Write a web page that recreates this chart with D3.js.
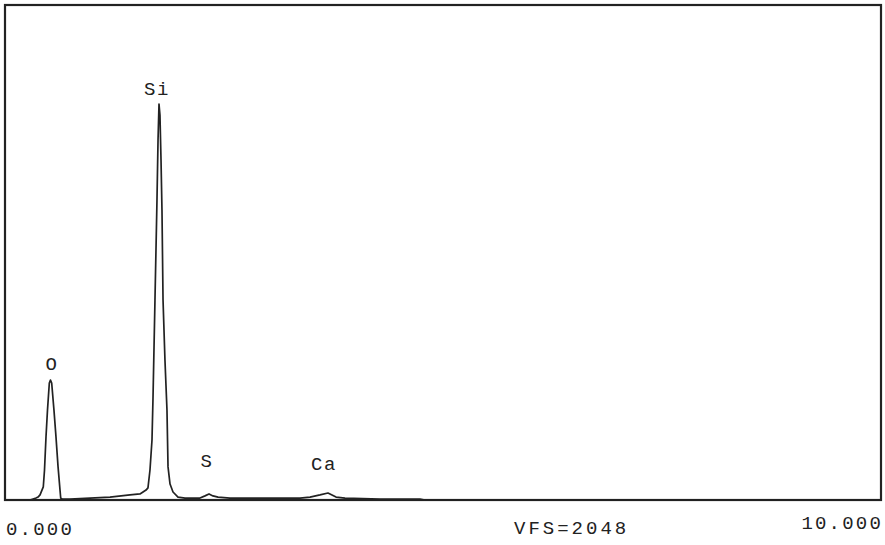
<!DOCTYPE html>
<html lang="en">
<head>
    <meta charset="UTF-8" />
    <title>EDS spectrum</title>
    <script src="https://d3js.org/d3.v7.min.js"></script>
    <style>
        body { margin: 0; background: #fff; }
        text { font-family: "Liberation Mono", "DejaVu Sans Mono", monospace; fill: #222; }
    </style>
</head>
<body>
    <script>
        // spectrum: energy (keV) and counts
        var energy = [
            0.000, 0.285, 0.320, 0.354, 0.377, 0.400, 0.422, 0.437, 0.451, 0.468,
            0.485, 0.506, 0.519, 0.533, 0.559, 0.582, 0.605, 0.628, 0.636, 0.651,
            0.742, 0.970, 1.199, 1.427, 1.541, 1.610, 1.632, 1.655, 1.678, 1.689,
            1.712, 1.735, 1.747, 1.758, 1.769, 1.781, 1.792, 1.804, 1.826, 1.849,
            1.861, 1.884, 1.918, 1.975, 2.055, 2.169, 2.226, 2.283, 2.329, 2.374,
            2.432, 2.568, 2.911, 3.139, 3.368, 3.482, 3.596, 3.687, 3.733, 3.779,
            3.881, 4.281, 4.737, 4.795, 10.000
        ];
        var counts = [
            0, 0, 4, 8, 12, 21, 41, 54, 124, 261,
            372, 484, 496, 484, 372, 261, 140, 41, 8, 4,
            4, 8, 12, 21, 25, 41, 50, 124, 248, 414,
            827, 1241, 1490, 1638, 1593, 1407, 1200, 827, 579, 372,
            137, 66, 33, 12, 8, 8, 8, 17, 25, 17,
            12, 8, 8, 8, 8, 12, 21, 29, 21, 12,
            8, 4, 4, 0, 0
        ];

        var elements = ["O", "Si", "S", "Ca"];
        var labelEnergy = [0.525, 1.724, 2.295, 3.630];
        var labelCounts = [538, 1675, 137, 124];

        var axisLabels = ["0.000", "10.000"];
        var vfsLabel = "VFS=2048";

        var w = 885;
        var h = 545;

        var xScale = d3.scaleLinear()
            .domain([0, 10])
            .range([5, 881]);

        var yScale = d3.scaleLinear()
            .domain([0, 2048])
            .range([500, 5]);

        var svg = d3.select("body")
            .append("svg")
            .attr("width", w)
            .attr("height", h);

        // frame
        svg.append("rect")
            .attr("x", xScale(0))
            .attr("y", yScale(2048))
            .attr("width", xScale(10) - xScale(0))
            .attr("height", yScale(0) - yScale(2048))
            .attr("fill", "none")
            .attr("stroke", "#222")
            .attr("stroke-width", 2.2);

        var points = energy.map(function (e, i) { return [e, counts[i]]; });

        var line = d3.line()
            .x(function (d) { return xScale(d[0]); })
            .y(function (d) { return yScale(d[1]); });

        svg.append("path")
            .datum(points)
            .attr("d", line)
            .attr("fill", "none")
            .attr("stroke", "#222")
            .attr("stroke-width", 1.7)
            .attr("stroke-linejoin", "round");

        // element labels
        svg.selectAll("text.el")
            .data(elements)
            .enter()
            .append("text")
            .attr("class", "el")
            .text(function (d) { return d; })
            .attr("x", function (d, i) { return xScale(labelEnergy[i]) + 1; })
            .attr("y", function (d, i) { return yScale(labelCounts[i]); })
            .attr("text-anchor", "middle")
            .attr("font-size", "19px")
            .attr("letter-spacing", "1.5px");

        // bottom labels
        svg.append("text")
            .text(axisLabels[0])
            .attr("x", xScale(0) + 1)
            .attr("y", 535)
            .attr("font-size", "19px")
            .attr("letter-spacing", "2.2px");

        svg.append("text")
            .text(axisLabels[1])
            .attr("x", xScale(10) + 2)
            .attr("y", 529)
            .attr("text-anchor", "end")
            .attr("font-size", "19px")
            .attr("letter-spacing", "2.2px");

        svg.append("text")
            .text(vfsLabel)
            .attr("x", 514)
            .attr("y", 534)
            .attr("font-size", "19px")
            .attr("letter-spacing", "3px");
    </script>
</body>
</html>
